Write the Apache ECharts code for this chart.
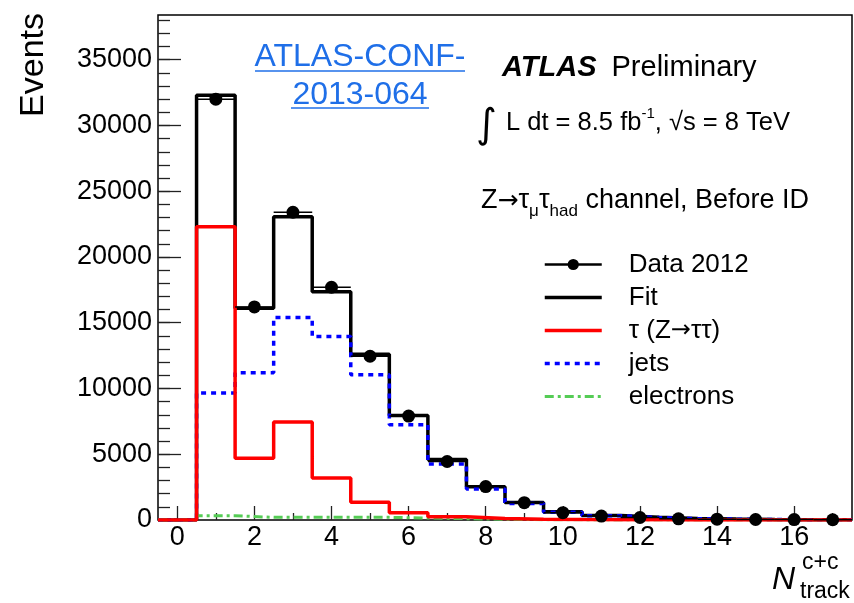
<!DOCTYPE html>
<html>
<head>
<meta charset="utf-8">
<script src="https://cdn.jsdelivr.net/npm/echarts@6/dist/echarts.min.js"></script>
<style>
  html, body { margin: 0; padding: 0; background: #fff; }
  #chart { width: 854px; height: 603px; }
</style>
</head>
<body>
<div id="chart"></div>
<script>
// Track-multiplicity histogram: bin centres 0..17
const binCenters = [0, 1, 2, 3, 4, 5, 6, 7, 8, 9, 10, 11, 12, 13, 14, 15, 16, 17];
const dataCounts = [null, 32000, 16200, 23400, 17700, 12450, 7900, 4450, 2540, 1320, 560, 300, 190, 90, 60, 40, 30, 20];
const fitCounts = [0, 32300, 16100, 23050, 17350, 12600, 7950, 4600, 2520, 1330, 620, 340, 200, 110, 70, 40, 25, 15];
const tauCounts = [0, 22300, 4700, 7450, 3200, 1350, 550, 250, 110, 50, 30, 15, 10, 5, 3, 2, 1, 1];
const jetCounts = [0, 9650, 11200, 15400, 13950, 11050, 7250, 4250, 2350, 1260, 580, 320, 185, 100, 65, 38, 24, 14];
const electronCounts = [0, 330, 200, 200, 200, 200, 150, 100, 60, 20, 10, 5, 5, 3, 2, 1, 1, 0];

const xTickLabels = [0, 2, 4, 6, 8, 10, 12, 14, 16];
const yTickLabels = [0, 5000, 10000, 15000, 20000, 25000, 30000, 35000];

const X_MIN = -0.5, X_MAX = 17.5, Y_MAX = 38400;
const FONT = '"Liberation Sans", Arial, Helvetica, sans-serif';
const ARROW_FONT = '"DejaVu Sans", sans-serif';

// minor ticks: odd track counts on x, every 1000 events on y
const xMinorTicks = binCenters.filter(v => v % 2 === 1);
const yMinorTicks = [];
for (let v = 0; v <= Y_MAX; v += 1000) yMinorTicks.push(v);

// outline of a histogram: each bin drawn as a flat segment across its width
function histogramPath(values) {
  const pts = [];
  values.forEach((v, i) => {
    pts.push([binCenters[i] - 0.5, v], [binCenters[i] + 0.5, v]);
  });
  return pts;
}

const dataPoints = binCenters
  .map((x, i) => [x, dataCounts[i]])
  .filter(p => p[1] !== null);

const chart = echarts.init(document.getElementById('chart'), null, { renderer: 'canvas' });

const tickLine = { color: '#222', width: 1.3 };
const noAxisLine = { show: false, onZero: false };
const hideSymbol = { opacity: 0, color: 'transparent', borderWidth: 0 };

const styles = {
  fit: { color: '#000', width: 3.5 },
  jets: { color: '#0000ff', width: 3.5, type: [5, 5] },
  electrons: { color: '#55cc55', width: 3, type: [9, 4, 3, 4] },
  tau: { color: '#ff0000', width: 3.5 }
};

chart.setOption({
  animation: false,
  backgroundColor: '#fff',
  textStyle: { fontFamily: FONT },
  grid: {
    left: 158, right: 2, top: 15, bottom: 83,
    show: true, borderColor: '#000', borderWidth: 1.5, backgroundColor: 'transparent'
  },
  xAxis: [
    {
      type: 'value', min: X_MIN, max: X_MAX,
      axisLine: noAxisLine, splitLine: { show: false },
      axisTick: { inside: true, length: 14, customValues: xTickLabels, lineStyle: tickLine },
      axisLabel: { customValues: xTickLabels, fontSize: 27, color: '#000', margin: 4, fontFamily: FONT,
                   formatter: v => String(v) }
    },
    {
      type: 'value', min: X_MIN, max: X_MAX, position: 'bottom',
      axisLine: noAxisLine, splitLine: { show: false },
      axisTick: { inside: true, length: 7, customValues: xMinorTicks, lineStyle: tickLine },
      axisLabel: { show: false }
    }
  ],
  yAxis: [
    {
      type: 'value', min: 0, max: Y_MAX,
      axisLine: noAxisLine, splitLine: { show: false },
      axisTick: { inside: true, length: 23, customValues: yTickLabels, lineStyle: tickLine },
      axisLabel: { customValues: yTickLabels, fontSize: 27, color: '#000', margin: 6, fontFamily: FONT,
                   formatter: v => String(v) }
    },
    {
      type: 'value', min: 0, max: Y_MAX, position: 'left',
      axisLine: noAxisLine, splitLine: { show: false },
      axisTick: { inside: true, length: 12, customValues: yMinorTicks, lineStyle: tickLine },
      axisLabel: { show: false }
    }
  ],
  legend: {
    orient: 'vertical', left: 543, top: 248, padding: 0,
    itemWidth: 57, itemHeight: 14, itemGap: 0,
    formatter: name => name.replace(/→/g, '{a|→}'),
    textStyle: {
      fontSize: 26, color: '#000', fontFamily: FONT, lineHeight: 33, padding: [0, 0, 0, 22],
      rich: { a: { fontSize: 24, fontFamily: ARROW_FONT, color: '#000', lineHeight: 33 } }
    },
    data: [
      { name: 'Data 2012', lineStyle: { width: 2.5, color: '#000' } },
      { name: 'Fit', itemStyle: hideSymbol, lineStyle: styles.fit },
      { name: 'τ (Z→ττ)', itemStyle: hideSymbol, lineStyle: styles.tau },
      { name: 'jets', itemStyle: hideSymbol, lineStyle: styles.jets },
      { name: 'electrons', itemStyle: hideSymbol, lineStyle: styles.electrons }
    ]
  },
  series: [
    {
      name: 'Fit', type: 'line', data: histogramPath(fitCounts),
      symbol: 'none', z: 2,
      lineStyle: styles.fit, itemStyle: { color: styles.fit.color }
    },
    {
      name: 'jets', type: 'line', data: histogramPath(jetCounts),
      symbol: 'none', z: 3,
      lineStyle: styles.jets, itemStyle: { color: styles.jets.color }
    },
    {
      name: 'electrons', type: 'line', data: histogramPath(electronCounts),
      symbol: 'none', z: 3,
      lineStyle: styles.electrons, itemStyle: { color: styles.electrons.color }
    },
    {
      name: 'τ (Z→ττ)', type: 'line', data: histogramPath(tauCounts),
      symbol: 'none', z: 4,
      lineStyle: styles.tau, itemStyle: { color: styles.tau.color }
    },
    {
      // bin-width and Poisson error bars of the data
      type: 'custom', z: 5, data: dataPoints,
      renderItem: function (params, api) {
        const x = api.value(0), y = api.value(1);
        const err = Math.sqrt(y);
        const l = api.coord([x - 0.5, y]);
        const r = api.coord([x + 0.5, y]);
        const t = api.coord([x, y + err]);
        const b = api.coord([x, y - err]);
        const st = { stroke: '#000', lineWidth: 1.5 };
        return {
          type: 'group',
          children: [
            { type: 'line', shape: { x1: l[0], y1: l[1], x2: r[0], y2: r[1] }, style: st },
            { type: 'line', shape: { x1: t[0], y1: t[1], x2: b[0], y2: b[1] }, style: st }
          ]
        };
      }
    },
    {
      name: 'Data 2012', type: 'line', data: dataPoints, z: 6,
      symbol: 'circle', symbolSize: 13, showSymbol: true,
      itemStyle: { color: '#000' },
      lineStyle: { width: 0, color: '#000' }
    }
  ],
  graphic: [
    // y-axis title
    {
      type: 'text', x: 34, y: 13, rotation: Math.PI / 2,
      style: { text: 'Events', fontSize: 34, fill: '#000', fontFamily: FONT, align: 'right', verticalAlign: 'middle' }
    },
    // x-axis title N^{c+c}_{track}
    {
      type: 'text', x: 772, y: 580,
      style: { text: 'N', fontSize: 32, fontStyle: 'italic', fill: '#000', fontFamily: FONT, align: 'left', verticalAlign: 'middle' }
    },
    {
      type: 'text', x: 802, y: 563,
      style: { text: 'c+c', fontSize: 23, fill: '#000', fontFamily: FONT, align: 'left', verticalAlign: 'middle' }
    },
    {
      type: 'text', x: 800, y: 592,
      style: { text: 'track', fontSize: 23, fill: '#000', fontFamily: FONT, align: 'left', verticalAlign: 'middle' }
    },
    // note reference
    {
      type: 'text', x: 360, y: 57,
      style: { text: 'ATLAS-CONF-', fontSize: 32, fill: '#1f6fe8', fontFamily: FONT, align: 'center', verticalAlign: 'middle' }
    },
    {
      type: 'text', x: 360, y: 95,
      style: { text: '2013-064', fontSize: 32, fill: '#1f6fe8', fontFamily: FONT, align: 'center', verticalAlign: 'middle' }
    },
    { type: 'line', shape: { x1: 255, y1: 71, x2: 465, y2: 71 }, style: { stroke: '#1f6fe8', lineWidth: 1.5 } },
    { type: 'line', shape: { x1: 291, y1: 108, x2: 429, y2: 108 }, style: { stroke: '#1f6fe8', lineWidth: 1.5 } },
    // experiment label
    {
      type: 'text', x: 502, y: 68,
      style: {
        text: '{b|ATLAS}{r|Preliminary}', fontFamily: FONT, align: 'left', verticalAlign: 'middle',
        rich: {
          b: { fontSize: 29, fontWeight: 'bold', fontStyle: 'italic', fill: '#000', fontFamily: FONT },
          r: { fontSize: 29, fill: '#000', fontFamily: FONT, padding: [0, 0, 0, 15] }
        }
      }
    },
    // luminosity and energy
    {
      type: 'text', x: 476, y: 127,
      style: { text: '∫', fontSize: 40, fill: '#000', fontFamily: ARROW_FONT, align: 'left', verticalAlign: 'middle' }
    },
    {
      type: 'text', x: 506, y: 123,
      style: {
        text: '{m|L dt = 8.5 fb}{s|-1}{m|, √s = 8 TeV}', fontFamily: FONT, align: 'left', verticalAlign: 'middle',
        rich: {
          m: { fontSize: 25.5, fill: '#000', fontFamily: FONT, lineHeight: 34 },
          s: { fontSize: 15, fill: '#000', fontFamily: FONT, lineHeight: 16, verticalAlign: 'top' }
        }
      }
    },
    // channel
    {
      type: 'text', x: 481, y: 201,
      style: {
        text: '{m|Z}{a|→}{m|τ}{u|μ}{m|τ}{u|had}{m| channel, Before ID}', fontFamily: FONT, align: 'left', verticalAlign: 'middle',
        rich: {
          m: { fontSize: 27, fill: '#000', fontFamily: FONT, lineHeight: 38 },
          a: { fontSize: 25, fill: '#000', fontFamily: ARROW_FONT, lineHeight: 38 },
          u: { fontSize: 17, fill: '#000', fontFamily: FONT, lineHeight: 17, verticalAlign: 'bottom' }
        }
      }
    }
  ]
});
</script>
</body>
</html>
